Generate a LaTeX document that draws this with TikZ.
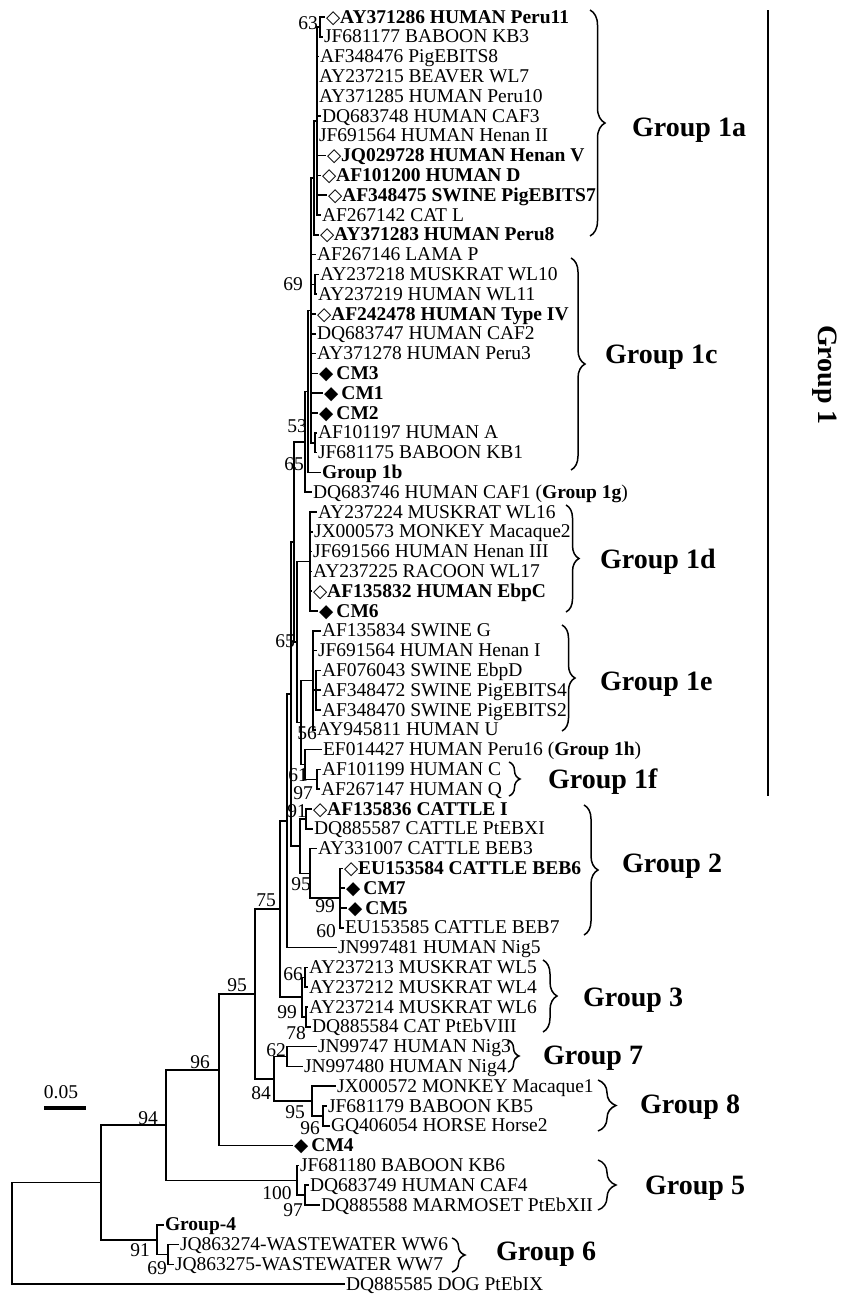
\documentclass[tikz,border=0pt]{standalone}
\usepackage{fontspec}
\setmainfont{Liberation Serif}
\newfontfamily\dingfont{DejaVu Sans}
\usetikzlibrary{decorations.pathreplacing}

% open and filled diamond marks in front of strain names
\newcommand{\od}{{\dingfont\fontsize{18.5}{18.5}\selectfont\char"25C7}}
\newcommand{\fd}{{\dingfont\fontsize{18.5}{18.5}\selectfont\char"25C6}\,}

\tikzset{
  leaf/.style={anchor=west, inner sep=0.8pt, text height=13pt, text depth=1pt},
  boot/.style={inner sep=0pt},
  grp/.style={anchor=west, inner sep=0pt, font=\fontsize{28}{30}\selectfont\bfseries},
  branch/.style={line width=1.6pt},
  curly/.style={decorate, decoration={brace, amplitude=#1}, line width=1.5pt},
}

\begin{document}
\begin{tikzpicture}[x=1pt, y=-1pt, font=\fontsize{19.5}{20}\selectfont]
    \useasboundingbox (0,0) rectangle (844,1296);

    % Leaves, Group 1a
    \node[leaf] (l1) at (325,17.0) {\od\textbf{AY371286 HUMAN Peru11}};
    \node[leaf] (l2) at (323,36.8) {JF681177 BABOON KB3};
    \node[leaf] (l3) at (319,56.6) {AF348476 PigEBITS8};
    \node[leaf] (l4) at (318,76.4) {AY237215 BEAVER WL7};
    \node[leaf] (l5) at (318,96.2) {AY371285 HUMAN Peru10};
    \node[leaf] (l6) at (321,116.0) {DQ683748 HUMAN CAF3};
    \node[leaf] (l7) at (318,135.8) {JF691564 HUMAN Henan II};
    \node[leaf] (l8) at (326,155.6) {\od\textbf{JQ029728 HUMAN Henan V}};
    \node[leaf] (l9) at (321,175.4) {\od\textbf{AF101200 HUMAN D}};
    \node[leaf] (l10) at (327,195.2) {\od\textbf{AF348475 SWINE PigEBITS7}};
    \node[leaf] (l11) at (321,215.0) {AF267142 CAT L};
    \node[leaf] (l12) at (319,234.8) {\od\textbf{AY371283 HUMAN Peru8}};

    % Leaves, Group 1c, 1b, 1g
    \node[leaf] (l13) at (316,254.6) {AF267146 LAMA P};
    \node[leaf] (l14) at (319,274.4) {AY237218 MUSKRAT WL10};
    \node[leaf] (l15) at (317,294.2) {AY237219 HUMAN WL11};
    \node[leaf] (l16) at (316,314.0) {\od\textbf{AF242478 HUMAN Type IV}};
    \node[leaf] (l17) at (316,333.8) {DQ683747 HUMAN CAF2};
    \node[leaf] (l18) at (316,353.6) {AY371278 HUMAN Peru3};
    \node[leaf] (l19) at (318,373.4) {\fd\textbf{CM3}};
    \node[leaf] (l20) at (323,393.2) {\fd\textbf{CM1}};
    \node[leaf] (l21) at (318,413.0) {\fd\textbf{CM2}};
    \node[leaf] (l22) at (317,432.8) {AF101197 HUMAN A};
    \node[leaf] (l23) at (317,452.6) {JF681175 BABOON KB1};
    \node[leaf] (l24) at (321,472.4) {\textbf{Group 1b}};
    \node[leaf] (l25) at (312,492.2) {DQ683746 HUMAN CAF1 (\textbf{Group 1g})};

    % Leaves, Group 1d, 1e, 1h, 1f
    \node[leaf] (l26) at (317,512.0) {AY237224 MUSKRAT WL16};
    \node[leaf] (l27) at (313,531.8) {JX000573 MONKEY Macaque2};
    \node[leaf] (l28) at (312,551.6) {JF691566 HUMAN Henan III};
    \node[leaf] (l29) at (312,571.4) {AY237225 RACOON WL17};
    \node[leaf] (l30) at (312,591.2) {\od\textbf{AF135832 HUMAN EbpC}};
    \node[leaf] (l31) at (318,611.0) {\fd\textbf{CM6}};
    \node[leaf] (l32) at (321,630.8) {AF135834 SWINE G};
    \node[leaf] (l33) at (317,650.6) {JF691564 HUMAN Henan I};
    \node[leaf] (l34) at (321,670.4) {AF076043 SWINE EbpD};
    \node[leaf] (l35) at (321,690.2) {AF348472 SWINE PigEBITS4};
    \node[leaf] (l36) at (321,710.0) {AF348470 SWINE PigEBITS2};
    \node[leaf] (l37) at (316,729.8) {AY945811 HUMAN U};
    \node[leaf] (l38) at (322,749.6) {EF014427 HUMAN Peru16 (\textbf{Group 1h})};
    \node[leaf] (l39) at (321,769.4) {AF101199 HUMAN C};
    \node[leaf] (l40) at (320,789.2) {AF267147 HUMAN Q};

    % Leaves, Group 2
    \node[leaf] (l41) at (312,809.0) {\od\textbf{AF135836 CATTLE I}};
    \node[leaf] (l42) at (313,828.8) {DQ885587 CATTLE PtEBXI};
    \node[leaf] (l43) at (317,848.6) {AY331007 CATTLE BEB3};
    \node[leaf] (l44) at (343,868.4) {\od\textbf{EU153584 CATTLE BEB6}};
    \node[leaf] (l45) at (345,888.2) {\fd\textbf{CM7}};
    \node[leaf] (l46) at (347,908.0) {\fd\textbf{CM5}};
    \node[leaf] (l47) at (344,927.8) {EU153585 CATTLE BEB7};
    \node[leaf] (l48) at (337,947.6) {JN997481 HUMAN Nig5};

    % Leaves, Groups 3, 7, 8
    \node[leaf] (l49) at (308,967.4) {AY237213 MUSKRAT WL5};
    \node[leaf] (l50) at (308,987.2) {AY237212 MUSKRAT WL4};
    \node[leaf] (l51) at (308,1007.0) {AY237214 MUSKRAT WL6};
    \node[leaf] (l52) at (311,1026.8) {DQ885584 CAT PtEbVIII};
    \node[leaf] (l53) at (317,1046.6) {JN99747 HUMAN Nig3};
    \node[leaf] (l54) at (303,1066.4) {JN997480 HUMAN Nig4};
    \node[leaf] (l55) at (336,1086.2) {JX000572 MONKEY Macaque1};
    \node[leaf] (l56) at (327,1106.0) {JF681179 BABOON KB5};
    \node[leaf] (l57) at (330,1125.8) {GQ406054 HORSE Horse2};
    \node[leaf] (l58) at (293,1145.6) {\fd\textbf{CM4}};

    % Leaves, Groups 5, 4, 6 and outgroup
    \node[leaf] (l59) at (299,1165.4) {JF681180 BABOON KB6};
    \node[leaf] (l60) at (309,1185.2) {DQ683749 HUMAN CAF4};
    \node[leaf] (l61) at (320,1205.0) {DQ885588 MARMOSET PtEbXII};
    \node[leaf] (l62) at (164,1224.8) {\textbf{Group-4}};
    \node[leaf] (l63) at (179,1244.6) {JQ863274-WASTEWATER WW6};
    \node[leaf] (l64) at (174,1264.4) {JQ863275-WASTEWATER WW7};
    \node[leaf] (l65) at (345,1284.2) {DQ885585 DOG PtEbIX};

    % Inner nodes
    \coordinate (n63) at (320,26.9);
    \coordinate (n1a) at (317,121.0);
    \coordinate (nA) at (314,178.0);
    \coordinate (n69) at (315,284.3);
    \coordinate (n53) at (315,442.7);
    \coordinate (nB) at (311,310.4);
    \coordinate (n65) at (308,391.4);
    \coordinate (nC) at (305,441.8);
    \coordinate (n1d) at (310,561.5);
    \coordinate (n1eb) at (316,690.2);
    \coordinate (n1e) at (313,680.3);
    \coordinate (n97) at (317,779.3);
    \coordinate (n61) at (305,764.5);
    \coordinate (n56) at (301,722.4);
    \coordinate (nDE) at (297,642.0);
    \coordinate (nF) at (294,541.9);
    \coordinate (n91) at (306,818.9);
    \coordinate (n99) at (340,898.1);
    \coordinate (n95) at (310,873.4);
    \coordinate (nG2) at (300,846.2);
    \coordinate (nG) at (291,694.0);
    \coordinate (n290) at (287,820.8);
    \coordinate (n66) at (305,977.3);
    \coordinate (n78) at (306,1016.9);
    \coordinate (nG3) at (302,997.1);
    \coordinate (n75) at (280,909.0);
    \coordinate (n62) at (287,1056.5);
    \coordinate (n9596) at (323,1115.9);
    \coordinate (nMac) at (312,1101.1);
    \coordinate (n84) at (274,1078.8);
    \coordinate (n95b) at (255,993.9);
    \coordinate (n96) at (219,1069.8);
    \coordinate (n97b) at (305,1195.1);
    \coordinate (n100) at (297,1180.3);
    \coordinate (n94) at (166,1125.0);
    \coordinate (n69b) at (168,1254.5);
    \coordinate (n91b) at (157,1239.7);
    \coordinate (n101) at (101,1182.4);
    \coordinate (root) at (12,1233.3);

    % Branches, Group 1
    \draw[branch] (n63) |- (l1.west) (n63) |- (l2.west);
    \draw[branch] (n1a) |- (n63) (n1a) |- (l3.west) (n1a) |- (l4.west) (n1a) |- (l5.west)
        (n1a) |- (l6.west) (n1a) |- (l7.west) (n1a) |- (l8.west) (n1a) |- (l9.west)
        (n1a) |- (l10.west) (n1a) |- (l11.west);
    \draw[branch] (nA) |- (n1a) (nA) |- (l12.west);
    \draw[branch] (n69) |- (l14.west) (n69) |- (l15.west);
    \draw[branch] (n53) |- (l22.west) (n53) |- (l23.west);
    \draw[branch] (nB) |- (nA) (nB) |- (l13.west) (nB) |- (n69) (nB) |- (l16.west)
        (nB) |- (l17.west) (nB) |- (l18.west) (nB) |- (l19.west) (nB) |- (l20.west)
        (nB) |- (l21.west) (nB) |- (n53);
    \draw[branch] (n65) |- (nB) (n65) |- (l24.west);
    \draw[branch] (nC) |- (n65) (nC) |- (l25.west);
    \draw[branch] (n1d) |- (l26.west) (n1d) |- (l27.west) (n1d) |- (l28.west)
        (n1d) |- (l29.west) (n1d) |- (l30.west) (n1d) |- (l31.west);
    \draw[branch] (n1eb) |- (l34.west) (n1eb) |- (l35.west) (n1eb) |- (l36.west);
    \draw[branch] (n1e) |- (l32.west) (n1e) |- (l33.west) (n1e) |- (n1eb) (n1e) |- (l37.west);
    \draw[branch] (n97) |- (l39.west) (n97) |- (l40.west);
    \draw[branch] (n61) |- (l38.west) (n61) |- (n97);
    \draw[branch] (n56) |- (n1e) (n56) |- (n61);
    \draw[branch] (nDE) |- (n1d) (nDE) |- (n56);
    \draw[branch] (nF) |- (nC) (nF) |- (nDE);

    % Branches, Group 2
    \draw[branch] (n91) |- (l41.west) (n91) |- (l42.west);
    \draw[branch] (n99) |- (l44.west) (n99) |- (l45.west) (n99) |- (l46.west) (n99) |- (l47.west);
    \draw[branch] (n95) |- (l43.west) (n95) |- (n99);
    \draw[branch] (nG2) |- (n91) (nG2) |- (n95);
    \draw[branch] (nG) |- (nF) (nG) |- (nG2);
    \draw[branch] (n290) |- (nG) (n290) |- (l48.west);

    % Branches, Groups 3, 7, 8 and CM4
    \draw[branch] (n66) |- (l49.west) (n66) |- (l50.west);
    \draw[branch] (n78) |- (l51.west) (n78) |- (l52.west);
    \draw[branch] (nG3) |- (n66) (nG3) |- (n78);
    \draw[branch] (n75) |- (n290) (n75) |- (nG3);
    \draw[branch] (n62) |- (l53.west) (n62) |- (l54.west);
    \draw[branch] (n9596) |- (l56.west) (n9596) |- (l57.west);
    \draw[branch] (nMac) |- (l55.west) (nMac) |- (n9596);
    \draw[branch] (n84) |- (n62) (n84) |- (nMac);
    \draw[branch] (n95b) |- (n75) (n95b) |- (n84);
    \draw[branch] (n96) |- (n95b) (n96) |- (l58.west);

    % Branches, Groups 5, 4, 6 and root
    \draw[branch] (n97b) |- (l60.west) (n97b) |- (l61.west);
    \draw[branch] (n100) |- (l59.west) (n100) |- (n97b);
    \draw[branch] (n94) |- (n96) (n94) |- (n100);
    \draw[branch] (n69b) |- (l63.west) (n69b) |- (l64.west);
    \draw[branch] (n91b) |- (l62.west) (n91b) |- (n69b);
    \draw[branch] (n101) |- (n94) (n101) |- (n91b);
    \draw[branch] (root) |- (n101) (root) |- (l65.west);

    % Bootstrap values
    \node[boot] (b63) at (308,23) {63};
    \node[boot] (b69) at (293,284) {69};
    \node[boot] (b53) at (297,426) {53};
    \node[boot] (b65a) at (294,464) {65};
    \node[boot] (b65b) at (285,641) {65};
    \node[boot] (b56) at (307,733) {56};
    \node[boot] (b61) at (298,775) {61};
    \node[boot] (b97) at (303,793) {97};
    \node[boot] (b91) at (297,811) {91};
    \node[boot] (b95) at (301,884) {95};
    \node[boot] (b99) at (325,906) {99};
    \node[boot] (b60) at (326,931) {60};
    \node[boot] (b75) at (266,900) {75};
    \node[boot] (b66) at (293,974) {66};
    \node[boot] (b99b) at (287,1012) {99};
    \node[boot] (b78) at (296,1033) {78};
    \node[boot] (b95c) at (237,985) {95};
    \node[boot] (b62) at (276,1050) {62};
    \node[boot] (b84) at (261,1093) {84};
    \node[boot] (b95d) at (295,1112) {95};
    \node[boot] (b96b) at (310,1128) {96};
    \node[boot] (b96) at (200,1062) {96};
    \node[boot] (b100) at (277,1193) {100};
    \node[boot] (b97c) at (293,1210) {97};
    \node[boot] (b94) at (148,1118) {94};
    \node[boot] (b91c) at (140,1250) {91};
    \node[boot] (b69c) at (157,1268) {69};

    % Scale bar
    \node[boot] (scl) at (61,1092) {0.05};
    \coordinate (sb1) at (44,1108);
    \coordinate (sb2) at (86,1108);
    \draw[line width=4pt] (sb1) -- (sb2);

    % Braces and group names
    \draw[curly=15pt] (590,10) -- (590,236);
    \node[grp] (g1a) at (632,130) {Group 1a};
    \draw[curly=14pt] (571,258) -- (571,470);
    \node[grp] (g1c) at (605,357) {Group 1c};
    \draw[curly=13pt] (566,505) -- (566,612);
    \node[grp] (g1d) at (600,562) {Group 1d};
    \draw[curly=13pt] (562,625) -- (562,731);
    \node[grp] (g1e) at (600,684) {Group 1e};
    \draw[curly=11pt] (509,762) -- (509,796);
    \node[grp] (g1f) at (548,782) {Group 1f};
    \draw[curly=14pt] (584,805) -- (584,935);
    \node[grp] (g2) at (622,866) {Group 2};
    \draw[curly=14pt] (543,960) -- (543,1032);
    \node[grp] (g3) at (583,1000) {Group 3};
    \draw[curly=11pt] (508,1040) -- (508,1072);
    \node[grp] (g7) at (543,1058) {Group 7};
    \draw[curly=18pt] (598,1080) -- (598,1131);
    \node[grp] (g8) at (640,1107) {Group 8};
    \draw[curly=18pt] (598,1160) -- (598,1210);
    \node[grp] (g5) at (645,1188) {Group 5};
    \draw[curly=13pt] (452,1238) -- (452,1272);
    \node[grp] (g6) at (496,1254) {Group 6};

    % Group 1 bar
    \coordinate (g1top) at (768,10);
    \coordinate (g1bot) at (768,796);
    \draw[line width=1.6pt] (g1top) -- (g1bot);
    \node[grp, anchor=center, rotate=-90] (g1) at (825,375) {Group 1};
\end{tikzpicture}
\end{document}
